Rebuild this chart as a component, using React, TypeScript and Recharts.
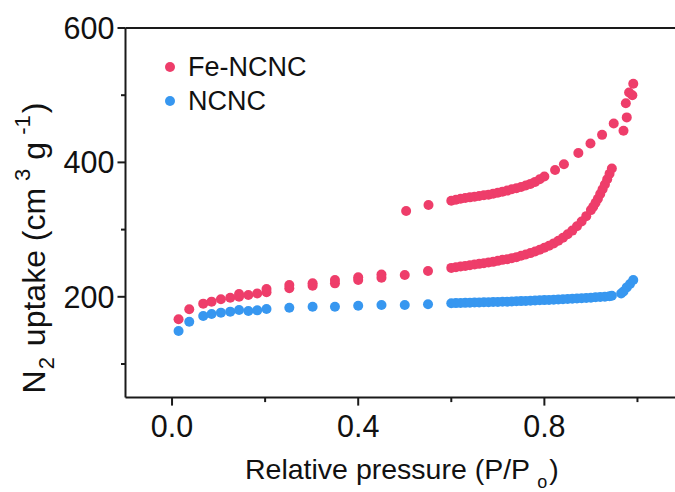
import { ScatterChart, Scatter, XAxis, YAxis } from 'recharts';

const RED = '#EE3D6A';
const BLUE = '#3797F0';
const FONT = '"Liberation Sans", Arial, sans-serif';

// Fe-NCNC, P/P0 and uptake
const feP = [
  0.014, 0.037, 0.067, 0.085, 0.105, 0.125, 0.144, 0.144, 0.164, 0.183, 0.203, 0.203,
  0.252, 0.252, 0.302, 0.302, 0.35, 0.35, 0.40, 0.40, 0.45, 0.45, 0.50, 0.55,
  0.60, 0.61, 0.62, 0.63, 0.64, 0.65, 0.66, 0.67, 0.68, 0.69, 0.70, 0.71, 0.72, 0.73,
  0.74, 0.75, 0.76, 0.77, 0.78, 0.79, 0.80, 0.81, 0.82, 0.83, 0.84, 0.85, 0.86, 0.87,
  0.88, 0.89, 0.90, 0.905, 0.91, 0.915, 0.92, 0.925, 0.93, 0.935, 0.94, 0.945,
  0.503, 0.551,
  0.60, 0.61, 0.62, 0.63, 0.64, 0.65, 0.66, 0.67, 0.68, 0.69, 0.70, 0.71, 0.72, 0.73,
  0.74, 0.75, 0.76, 0.77, 0.78, 0.79, 0.80,
  0.823, 0.842, 0.873, 0.899, 0.924, 0.949, 0.970, 0.977, 0.975, 0.982, 0.989, 0.991,
];
const feV = [
  166.5, 181.4, 189.8, 192.8, 196.3, 198.7, 200, 204, 202.7, 205, 206.7, 211.6,
  212.7, 217.6, 216.6, 220, 220, 225, 225, 229, 228.4, 233, 232.4, 238.4,
  243, 244, 245, 246, 247, 248, 249, 250, 251, 252, 253.5, 255, 256, 257.5,
  259, 261, 263, 265, 267.5, 270, 273, 276, 279.5, 283.5, 288, 293, 298.5, 305,
  312, 320, 329, 334, 340, 346, 353, 360, 367, 375, 383, 391,
  327.7, 336.6,
  343, 344.5, 346, 347, 348, 349, 350, 351, 352, 353.5, 355, 356.5, 358, 360,
  361.5, 363.5, 365.5, 368, 371, 375, 379,
  388.7, 397.3, 414, 428, 441, 458, 447, 467, 488, 504, 500, 517,
];

// NCNC
const ncP = [
  0.014, 0.037, 0.067, 0.085, 0.105, 0.125, 0.144, 0.164, 0.183, 0.203, 0.252, 0.302,
  0.35, 0.40, 0.45, 0.50, 0.55,
  0.60, 0.61, 0.62, 0.63, 0.64, 0.65, 0.66, 0.67, 0.68, 0.69, 0.70, 0.71, 0.72, 0.73,
  0.74, 0.75, 0.76, 0.77, 0.78, 0.79, 0.80, 0.81, 0.82, 0.83, 0.84, 0.85, 0.86, 0.87,
  0.88, 0.89, 0.90, 0.91, 0.92, 0.93, 0.94, 0.945,
  0.965, 0.970, 0.977, 0.984, 0.991,
];
const ncV = [
  149, 163, 171.4, 174.4, 176.4, 177.9, 180.4, 178.9, 179.8, 181.8, 183.8, 185.3,
  185.3, 186.8, 187.8, 187.8, 188.8,
  190.5, 190.6, 190.8, 191, 191.2, 191.4, 191.6, 191.8, 192, 192.2, 192.4, 192.6, 192.8, 193,
  193.3, 193.6, 193.9, 194.2, 194.5, 194.8, 195.1, 195.4, 195.7, 196, 196.3, 196.6, 197, 197.4,
  197.8, 198.2, 198.7, 199.2, 199.7, 200.2, 200.8, 201.5,
  205, 208, 214, 219, 225,
];

const xTicks = [0, 0.2, 0.4, 0.6, 0.8, 1.0];
const xLabels = ['0.0', '0.4', '0.8'];
const yTicks = [100, 200, 300, 400, 500, 600];
const yLabels = ['200', '400', '600'];

const feData = feP.map((p, i) => ({ p, v: feV[i] }));
const ncData = ncP.map((p, i) => ({ p, v: ncV[i] }));

const dot = (color: string) => (props: any) => (
  <circle cx={props.cx} cy={props.cy} r={5} fill={color} />
);

const XTick = (props: any) => {
  const { x, y, payload } = props;
  const label = payload.value.toFixed(1);
  const major = xLabels.includes(label);
  return (
    <g>
      <line x1={x} x2={x} y1={y} y2={y + (major ? 8 : 4.5)} stroke="#1a1a1a" strokeWidth={2} />
      {major && (
        <text x={x} y={y + 39} textAnchor="middle" fontSize={30.5} fontFamily={FONT} fill="#111">
          {label}
        </text>
      )}
    </g>
  );
};

const YTick = (props: any) => {
  const { x, y, payload } = props;
  const label = String(payload.value);
  const major = yLabels.includes(label);
  return (
    <g>
      <line x1={x - (major ? 8 : 4.5)} x2={x} y1={y} y2={y} stroke="#1a1a1a" strokeWidth={2} />
      {major && (
        <text x={x - 11} y={y + 11} textAnchor="end" fontSize={30.5} fontFamily={FONT} fill="#111">
          {label}
        </text>
      )}
    </g>
  );
};

const legendItems = [
  { name: 'Fe-NCNC', color: RED },
  { name: 'NCNC', color: BLUE },
];

export default function App() {
  return (
    <div style={{ position: 'fixed', left: 0, top: 0, width: 675, height: 492, overflow: 'hidden', background: '#fff' }}>
      <ScatterChart
        width={760}
        height={492}
        margin={{ top: 27, left: 124.5, right: 75, bottom: 93.4 }}
      >
        <XAxis
          type="number"
          dataKey="p"
          domain={[-0.1, 1.1]}
          ticks={xTicks}
          interval={0}
          height={1}
          tickSize={0}
          tickMargin={0}
          tickLine={false}
          tick={<XTick />}
          axisLine={{ stroke: '#1a1a1a', strokeWidth: 2 }}
          allowDataOverflow
        />
        <XAxis
          xAxisId="top"
          orientation="top"
          type="number"
          domain={[-0.1, 1.1]}
          height={1}
          tick={false}
          tickLine={false}
          axisLine={{ stroke: '#1a1a1a', strokeWidth: 2 }}
        />
        <YAxis
          type="number"
          dataKey="v"
          domain={[50, 600]}
          ticks={yTicks}
          interval={0}
          width={1}
          tickSize={0}
          tickMargin={0}
          tickLine={false}
          tick={<YTick />}
          axisLine={{ stroke: '#1a1a1a', strokeWidth: 2 }}
          allowDataOverflow
        />
        <YAxis
          yAxisId="right"
          orientation="right"
          type="number"
          domain={[50, 600]}
          width={1}
          tick={false}
          tickLine={false}
          axisLine={{ stroke: '#1a1a1a', strokeWidth: 2 }}
        />
        <Scatter data={feData} shape={dot(RED)} isAnimationActive={false} />
        <Scatter data={ncData} shape={dot(BLUE)} isAnimationActive={false} />
      </ScatterChart>

      <div style={{ position: 'absolute', left: 160, top: 50, fontFamily: FONT, fontSize: 27, color: '#111' }}>
        {legendItems.map((item) => (
          <div key={item.name} style={{ display: 'flex', alignItems: 'center', height: 34 }}>
            <span style={{ width: 10, height: 10, borderRadius: 5, background: item.color, marginLeft: 5, marginRight: 13 }} />
            <span>{item.name}</span>
          </div>
        ))}
      </div>

      <svg width={675} height={492} style={{ position: 'absolute', left: 0, top: 0, pointerEvents: 'none' }}>
        <text x={245} y={479} fontSize={28.5} fontFamily={FONT} fill="#111">
          Relative pressure (P/P
          <tspan fontSize={18} dx={7} dy={9}>o</tspan>
          <tspan dx={2} dy={-9}>)</tspan>
        </text>
        <text transform="rotate(-90, 45, 248)" x={45} y={248} textAnchor="middle" fontSize={32} fontFamily={FONT} fill="#111">
          N
          <tspan fontSize={22} dx={1} dy={9}>2</tspan>
          <tspan dx={2} dy={-9}> uptake (cm</tspan>
          <tspan fontSize={22} dx={7} dy={-15}>3</tspan>
          <tspan dx={9} dy={15}>g</tspan>
          <tspan fontSize={22} dx={7} dy={-15}>-1</tspan>
          <tspan dx={2} dy={15}>)</tspan>
        </text>
      </svg>
    </div>
  );
}
